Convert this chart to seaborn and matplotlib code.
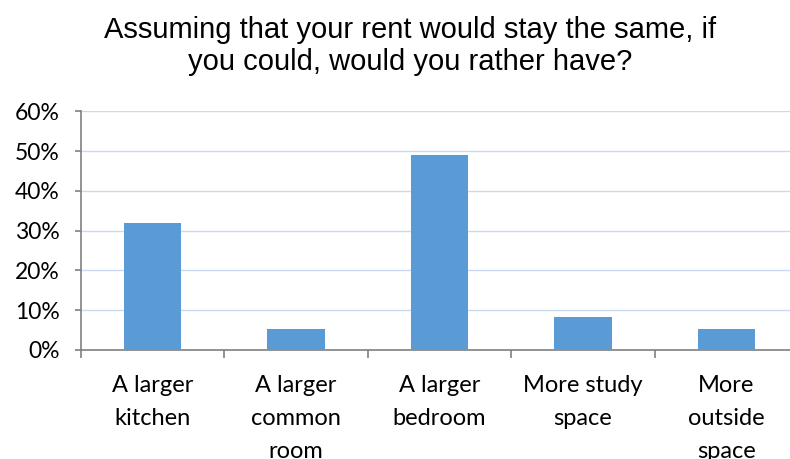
import matplotlib
matplotlib.use("Agg")
import matplotlib.pyplot as plt
import seaborn as sns
import pandas as pd
from matplotlib.ticker import FixedLocator, NullFormatter

# Survey answers: preferred extra space if rent stayed the same
categories = [
    "A larger\nkitchen",
    "A larger\ncommon\nroom",
    "A larger\nbedroom",
    "More study\nspace",
    "More\noutside\nspace",
]
shares = [32.0, 5.3, 49.0, 8.2, 5.3]
y_ticks = [0, 10, 20, 30, 40, 50, 60]
y_tick_labels = [f"{v}%" for v in y_ticks]
title = "Assuming that your rent would stay the same, if\nyou could, would you rather have?"

sns.set_theme(style="white")
plt.rcParams["font.family"] = ["Lato", "DejaVu Sans"]

W, H = 790, 459
fig = plt.figure(figsize=(W / 100, H / 100), dpi=100)
ax = fig.add_axes([81 / W, 1 - 350 / H, 717 / W, (350 - 111.3) / H])

df = pd.DataFrame({"option": categories, "share": shares})
sns.barplot(data=df, x="option", y="share", color="#5b9bd5", saturation=1,
            width=0.4, linewidth=0, ax=ax, zorder=3)

ax.set_xlim(-0.5, len(categories) - 0.5)
ax.set_ylim(0, 60)
ax.set_xlabel("")
ax.set_ylabel("")

# horizontal gridlines
ax.yaxis.set_major_locator(FixedLocator(y_ticks))
ax.set_yticklabels(y_tick_labels)
ax.grid(axis="y", color="#c9daf0", linewidth=1.0, zorder=0)
ax.grid(axis="x", visible=False)
ax.set_axisbelow(True)

# spines
for side in ("top", "right"):
    ax.spines[side].set_visible(False)
for side in ("left", "bottom"):
    ax.spines[side].set_color("#808080")
    ax.spines[side].set_linewidth(1.2)

# category boundary ticks below the baseline
ax.xaxis.set_minor_locator(FixedLocator([i - 0.5 for i in range(len(categories) + 1)]))
ax.xaxis.set_minor_formatter(NullFormatter())
ax.tick_params(axis="x", which="minor", bottom=True, length=6, width=1.2,
               color="#808080", direction="out")
ax.tick_params(axis="x", which="major", bottom=True, length=0, pad=18,
               labelsize=17, labelcolor="#000000")
ax.tick_params(axis="y", which="major", left=True, length=4, width=1.2,
               color="#808080", direction="out", pad=11.5,
               labelsize=16.5, labelcolor="#000000")
for lbl in ax.get_xticklabels():
    lbl.set_linespacing(1.7)

fig.text(410 / W, 1 - 46 / H, title, ha="center", va="center",
         fontsize=21, family=["Liberation Sans", "DejaVu Sans"],
         linespacing=1.2, color="#000000")

fig.savefig("out.png", dpi=100)
